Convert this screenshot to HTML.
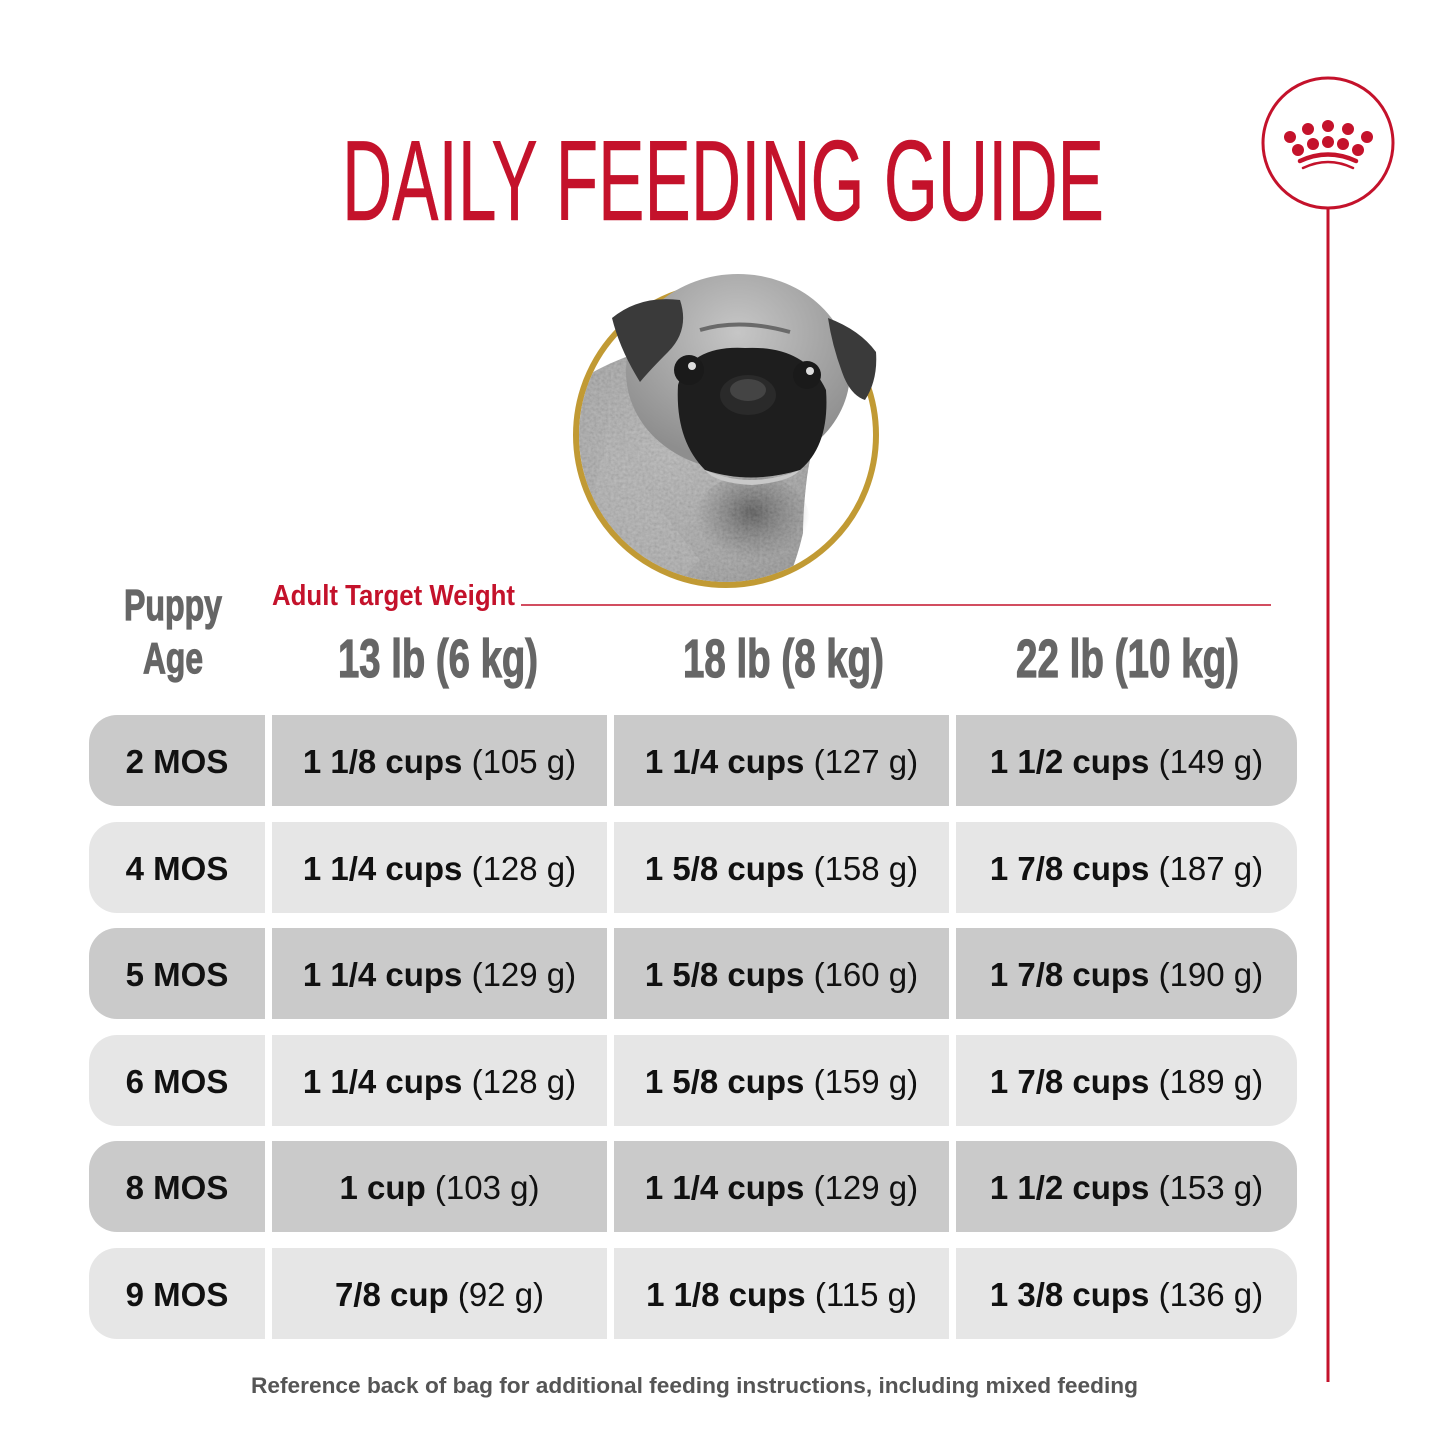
<!DOCTYPE html>
<html>
<head>
<meta charset="utf-8">
<style>
  html,body{margin:0;padding:0;background:#fff;}
  svg{display:block;}
  text{font-family:"Liberation Sans",sans-serif;}
</style>
</head>
<body>
<svg width="1445" height="1445" viewBox="0 0 1445 1445" xmlns="http://www.w3.org/2000/svg">
  <defs>
    <clipPath id="ring"><circle cx="726" cy="435" r="147"/></clipPath>
    <radialGradient id="fur" cx="0.4" cy="0.4" r="0.7">
      <stop offset="0" stop-color="#b4b4b4"/>
      <stop offset="0.7" stop-color="#9e9e9e"/>
      <stop offset="1" stop-color="#8c8c8c"/>
    </radialGradient>
    <radialGradient id="head" cx="0.5" cy="0.3" r="0.65">
      <stop offset="0" stop-color="#c6c6c6"/>
      <stop offset="1" stop-color="#8e8e8e"/>
    </radialGradient>
    <radialGradient id="chest" cx="0.5" cy="0.4" r="0.5">
      <stop offset="0" stop-color="#3a3a3a" stop-opacity="0.85"/>
      <stop offset="1" stop-color="#5a5a5a" stop-opacity="0"/>
    </radialGradient>
    <filter id="grain" x="0" y="0" width="100%" height="100%">
      <feTurbulence type="fractalNoise" baseFrequency="0.35" numOctaves="2" seed="3" result="n"/>
      <feColorMatrix in="n" type="saturate" values="0" result="g"/>
      <feComponentTransfer in="g" result="g2">
        <feFuncA type="linear" slope="0" intercept="0.25"/>
      </feComponentTransfer>
      <feComposite in="g2" in2="SourceGraphic" operator="in"/>
    </filter>
  </defs>
  <rect width="1445" height="1445" fill="#fff"/>

  <!-- Title -->
  <text x="342" y="220" font-size="114" fill="#c4122b" stroke="#c4122b" stroke-width="0.6" textLength="762" lengthAdjust="spacingAndGlyphs">DAILY FEEDING GUIDE</text>

  <!-- Logo -->
  <line x1="1328" y1="208" x2="1328" y2="1382" stroke="#c4122b" stroke-width="3"/>
  <circle cx="1328" cy="143" r="65" fill="#fff" stroke="#c4122b" stroke-width="3"/>
  <g fill="#c4122b">
    <circle cx="1290" cy="137" r="6"/>
    <circle cx="1308" cy="129" r="6"/>
    <circle cx="1328" cy="126" r="6"/>
    <circle cx="1348" cy="129" r="6"/>
    <circle cx="1367" cy="137" r="6"/>
    <circle cx="1298" cy="150" r="6"/>
    <circle cx="1313" cy="144" r="6"/>
    <circle cx="1328" cy="142" r="6"/>
    <circle cx="1343" cy="144" r="6"/>
    <circle cx="1358" cy="150" r="6"/>
  </g>
  <path d="M1300 161 Q1328 148 1356 161" fill="none" stroke="#c4122b" stroke-width="4.5" stroke-linecap="round"/>
  <path d="M1303 168 Q1328 156 1353 168" fill="none" stroke="#c4122b" stroke-width="2.5" stroke-linecap="round"/>

  <!-- Pug -->
  <circle cx="726" cy="435" r="150" fill="#fff" stroke="#c19a34" stroke-width="6"/>
  <g clip-path="url(#ring)">
    <path d="M573 385 Q600 365 640 352 L830 398 Q812 440 807 477 Q803 510 803 533 Q798 555 790 575 L780 600 L560 600 Z" fill="url(#fur)"/>
    <ellipse cx="752" cy="522" rx="58" ry="48" fill="url(#chest)"/>
    <path d="M610 430 Q650 500 700 560 L660 600 L575 560 Z" fill="#b0b0b0" opacity="0.6"/>
    <path d="M573 385 Q600 365 640 352 L830 398 Q812 440 807 477 Q803 510 803 533 Q798 555 790 575 L780 600 L560 600 Z" fill="#000" filter="url(#grain)"/>
  </g>
  <!-- head -->
  <ellipse cx="738" cy="372" rx="112" ry="98" fill="url(#head)"/>
  <!-- ears -->
  <path d="M612 318 Q640 295 680 300 Q690 330 668 352 Q650 370 640 382 Q620 350 612 318 Z" fill="#3a3a3a"/>
  <path d="M828 318 Q860 330 876 352 Q878 380 865 400 Q850 395 842 372 Q832 345 828 318 Z" fill="#3a3a3a"/>
  <!-- face mask -->
  <path d="M678 385 Q690 345 745 348 Q805 345 826 390 Q830 445 800 470 Q750 485 705 470 Q675 440 678 385 Z" fill="#1e1e1e"/>
  <path d="M705 470 Q750 490 800 470 Q790 482 752 485 Q715 483 705 470 Z" fill="#c8c8c8"/>
  <ellipse cx="748" cy="395" rx="28" ry="20" fill="#2a2a2a"/>
  <ellipse cx="748" cy="390" rx="18" ry="11" fill="#444"/>
  <!-- eyes -->
  <circle cx="689" cy="370" r="15" fill="#1a1a1a"/>
  <circle cx="692" cy="366" r="4" fill="#ddd"/>
  <circle cx="807" cy="375" r="14" fill="#1a1a1a"/>
  <circle cx="810" cy="371" r="4" fill="#ddd"/>
  <!-- forehead wrinkles -->
  <path d="M700 330 Q740 318 790 332" fill="none" stroke="#6a6a6a" stroke-width="4"/>

  <!-- Headers -->
  <g fill="#666" stroke="#666" stroke-width="1.2">
    <text x="124" y="620" font-size="44" font-weight="bold" textLength="98" lengthAdjust="spacingAndGlyphs">Puppy</text>
    <text x="143" y="673" font-size="44" font-weight="bold" textLength="60" lengthAdjust="spacingAndGlyphs">Age</text>
    <text x="338" y="677" font-size="54" font-weight="bold" textLength="200" lengthAdjust="spacingAndGlyphs">13 lb (6 kg)</text>
    <text x="683" y="677" font-size="54" font-weight="bold" textLength="201" lengthAdjust="spacingAndGlyphs">18 lb (8 kg)</text>
    <text x="1016" y="677" font-size="54" font-weight="bold" textLength="223" lengthAdjust="spacingAndGlyphs">22 lb (10 kg)</text>
  </g>
  <text x="272" y="605" font-size="29" font-weight="bold" fill="#c4122b" textLength="243" lengthAdjust="spacingAndGlyphs">Adult Target Weight</text>
  <line x1="521" y1="605" x2="1271" y2="605" stroke="#c4122b" stroke-width="1.5"/>

  <!-- Rows -->
  <g>
    <rect x="89" y="715" width="1208" height="91" rx="28" fill="#cacaca"/>
    <rect x="89" y="822" width="1208" height="91" rx="28" fill="#e6e6e6"/>
    <rect x="89" y="928" width="1208" height="91" rx="28" fill="#cacaca"/>
    <rect x="89" y="1035" width="1208" height="91" rx="28" fill="#e6e6e6"/>
    <rect x="89" y="1141" width="1208" height="91" rx="28" fill="#cacaca"/>
    <rect x="89" y="1248" width="1208" height="91" rx="28" fill="#e6e6e6"/>
    <rect x="265" y="700" width="7" height="650" fill="#fff"/>
    <rect x="607" y="700" width="7" height="650" fill="#fff"/>
    <rect x="949" y="700" width="7" height="650" fill="#fff"/>
  </g>

  <g font-size="33" fill="#111" text-anchor="middle">
    <!-- row 1 -->
    <text x="177" y="773" font-weight="bold">2 MOS</text>
    <text x="439.5" y="773"><tspan font-weight="bold">1 1/8 cups</tspan> (105 g)</text>
    <text x="781.5" y="773"><tspan font-weight="bold">1 1/4 cups</tspan> (127 g)</text>
    <text x="1126.5" y="773"><tspan font-weight="bold">1 1/2 cups</tspan> (149 g)</text>
    <!-- row 2 -->
    <text x="177" y="880" font-weight="bold">4 MOS</text>
    <text x="439.5" y="880"><tspan font-weight="bold">1 1/4 cups</tspan> (128 g)</text>
    <text x="781.5" y="880"><tspan font-weight="bold">1 5/8 cups</tspan> (158 g)</text>
    <text x="1126.5" y="880"><tspan font-weight="bold">1 7/8 cups</tspan> (187 g)</text>
    <!-- row 3 -->
    <text x="177" y="986" font-weight="bold">5 MOS</text>
    <text x="439.5" y="986"><tspan font-weight="bold">1 1/4 cups</tspan> (129 g)</text>
    <text x="781.5" y="986"><tspan font-weight="bold">1 5/8 cups</tspan> (160 g)</text>
    <text x="1126.5" y="986"><tspan font-weight="bold">1 7/8 cups</tspan> (190 g)</text>
    <!-- row 4 -->
    <text x="177" y="1093" font-weight="bold">6 MOS</text>
    <text x="439.5" y="1093"><tspan font-weight="bold">1 1/4 cups</tspan> (128 g)</text>
    <text x="781.5" y="1093"><tspan font-weight="bold">1 5/8 cups</tspan> (159 g)</text>
    <text x="1126.5" y="1093"><tspan font-weight="bold">1 7/8 cups</tspan> (189 g)</text>
    <!-- row 5 -->
    <text x="177" y="1199" font-weight="bold">8 MOS</text>
    <text x="439.5" y="1199"><tspan font-weight="bold">1 cup</tspan> (103 g)</text>
    <text x="781.5" y="1199"><tspan font-weight="bold">1 1/4 cups</tspan> (129 g)</text>
    <text x="1126.5" y="1199"><tspan font-weight="bold">1 1/2 cups</tspan> (153 g)</text>
    <!-- row 6 -->
    <text x="177" y="1306" font-weight="bold">9 MOS</text>
    <text x="439.5" y="1306"><tspan font-weight="bold">7/8 cup</tspan> (92 g)</text>
    <text x="781.5" y="1306"><tspan font-weight="bold">1 1/8 cups</tspan> (115 g)</text>
    <text x="1126.5" y="1306"><tspan font-weight="bold">1 3/8 cups</tspan> (136 g)</text>
  </g>

  <!-- Footer -->
  <text x="251" y="1393" font-size="22" font-weight="bold" fill="#555" textLength="887" lengthAdjust="spacingAndGlyphs">Reference back of bag for additional feeding instructions, including mixed feeding</text>
</svg>
</body>
</html>
